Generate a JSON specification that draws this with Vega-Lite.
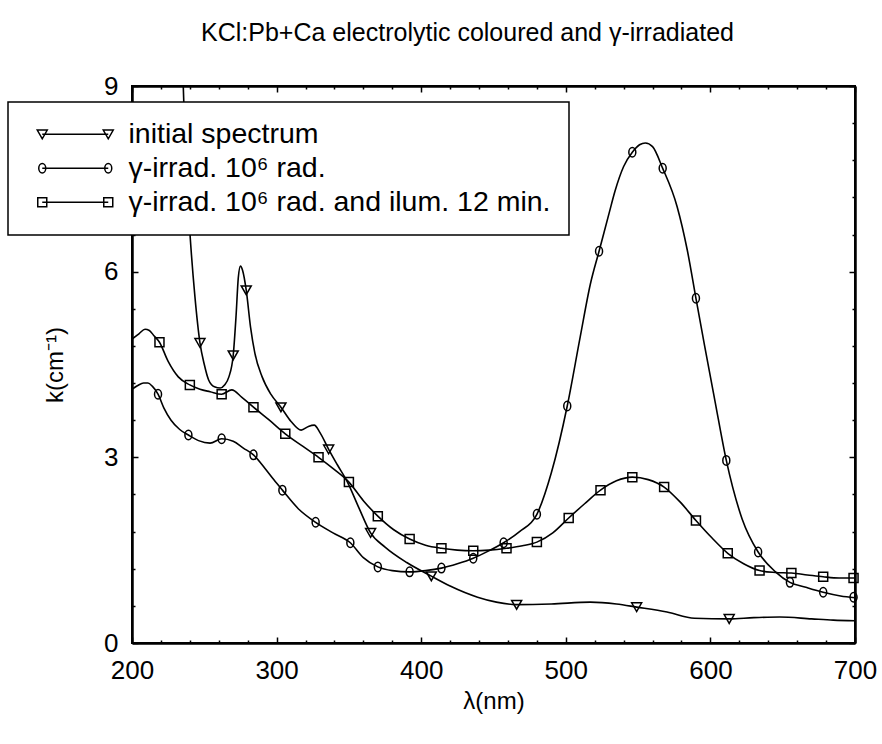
{
  "$schema": "https://vega.github.io/schema/vega-lite/v6.json",
  "width": 723,
  "height": 557,
  "autosize": {"type": "none"},
  "padding": {"left": 132, "top": 86, "right": 27, "bottom": 101},
  "background": "white",
  "config": {
    "view": {"stroke": "black", "strokeWidth": 2},
    "font": "Liberation Sans",
    "axis": {"domainColor": "black", "domainWidth": 2.5, "tickColor": "black", "tickWidth": 1.5, "labelColor": "black", "titleColor": "black", "grid": false, "labelFont": "Liberation Sans", "titleFont": "Liberation Sans", "labelFontSize": 26, "titleFontSize": 24, "titleFontWeight": "normal", "labelFlush": false, "labelOverlap": false}
  },
  "title": {"text": "KCl:Pb+Ca electrolytic coloured and γ-irradiated", "fontSize": 25, "fontWeight": "normal", "font": "Liberation Sans", "color": "black", "anchor": "middle", "frame": "group", "dx": -26, "offset": 27},
  "datasets": {
    "curves": [
      {"series": "initial spectrum", "wavelength": 234.6, "k": 9.6},
      {"series": "initial spectrum", "wavelength": 236.3, "k": 8.4},
      {"series": "initial spectrum", "wavelength": 238, "k": 7.4},
      {"series": "initial spectrum", "wavelength": 240, "k": 6.64},
      {"series": "initial spectrum", "wavelength": 243.5, "k": 5.6},
      {"series": "initial spectrum", "wavelength": 247, "k": 4.85},
      {"series": "initial spectrum", "wavelength": 250, "k": 4.5},
      {"series": "initial spectrum", "wavelength": 253, "k": 4.25},
      {"series": "initial spectrum", "wavelength": 257, "k": 4.14},
      {"series": "initial spectrum", "wavelength": 261, "k": 4.12},
      {"series": "initial spectrum", "wavelength": 264, "k": 4.17},
      {"series": "initial spectrum", "wavelength": 267, "k": 4.3},
      {"series": "initial spectrum", "wavelength": 270, "k": 4.65},
      {"series": "initial spectrum", "wavelength": 272, "k": 5.3},
      {"series": "initial spectrum", "wavelength": 273.5, "k": 5.9},
      {"series": "initial spectrum", "wavelength": 275, "k": 6.09},
      {"series": "initial spectrum", "wavelength": 276.5, "k": 6.02},
      {"series": "initial spectrum", "wavelength": 279, "k": 5.7},
      {"series": "initial spectrum", "wavelength": 282, "k": 5.1},
      {"series": "initial spectrum", "wavelength": 285, "k": 4.68},
      {"series": "initial spectrum", "wavelength": 290, "k": 4.3},
      {"series": "initial spectrum", "wavelength": 296, "k": 4.02},
      {"series": "initial spectrum", "wavelength": 303, "k": 3.81},
      {"series": "initial spectrum", "wavelength": 310, "k": 3.58},
      {"series": "initial spectrum", "wavelength": 317, "k": 3.44},
      {"series": "initial spectrum", "wavelength": 322, "k": 3.5},
      {"series": "initial spectrum", "wavelength": 326, "k": 3.52},
      {"series": "initial spectrum", "wavelength": 330, "k": 3.4},
      {"series": "initial spectrum", "wavelength": 336, "k": 3.13},
      {"series": "initial spectrum", "wavelength": 342, "k": 2.88},
      {"series": "initial spectrum", "wavelength": 349, "k": 2.6},
      {"series": "initial spectrum", "wavelength": 357, "k": 2.18},
      {"series": "initial spectrum", "wavelength": 365, "k": 1.78},
      {"series": "initial spectrum", "wavelength": 375, "k": 1.55},
      {"series": "initial spectrum", "wavelength": 390, "k": 1.3},
      {"series": "initial spectrum", "wavelength": 407, "k": 1.08},
      {"series": "initial spectrum", "wavelength": 420, "k": 0.92},
      {"series": "initial spectrum", "wavelength": 439, "k": 0.74},
      {"series": "initial spectrum", "wavelength": 452, "k": 0.66},
      {"series": "initial spectrum", "wavelength": 466, "k": 0.62},
      {"series": "initial spectrum", "wavelength": 490, "k": 0.63},
      {"series": "initial spectrum", "wavelength": 517, "k": 0.66},
      {"series": "initial spectrum", "wavelength": 535, "k": 0.63},
      {"series": "initial spectrum", "wavelength": 549, "k": 0.58},
      {"series": "initial spectrum", "wavelength": 570, "k": 0.5},
      {"series": "initial spectrum", "wavelength": 589, "k": 0.4},
      {"series": "initial spectrum", "wavelength": 613, "k": 0.39},
      {"series": "initial spectrum", "wavelength": 630, "k": 0.41},
      {"series": "initial spectrum", "wavelength": 648, "k": 0.42},
      {"series": "initial spectrum", "wavelength": 670, "k": 0.39},
      {"series": "initial spectrum", "wavelength": 685, "k": 0.37},
      {"series": "initial spectrum", "wavelength": 700, "k": 0.36},
      {"series": "γ-irrad. 10⁶ rad.", "wavelength": 200, "k": 4.1},
      {"series": "γ-irrad. 10⁶ rad.", "wavelength": 204, "k": 4.16},
      {"series": "γ-irrad. 10⁶ rad.", "wavelength": 208, "k": 4.2},
      {"series": "γ-irrad. 10⁶ rad.", "wavelength": 211, "k": 4.2},
      {"series": "γ-irrad. 10⁶ rad.", "wavelength": 214, "k": 4.15},
      {"series": "γ-irrad. 10⁶ rad.", "wavelength": 218, "k": 4.02},
      {"series": "γ-irrad. 10⁶ rad.", "wavelength": 222, "k": 3.8},
      {"series": "γ-irrad. 10⁶ rad.", "wavelength": 227, "k": 3.6},
      {"series": "γ-irrad. 10⁶ rad.", "wavelength": 233, "k": 3.45},
      {"series": "γ-irrad. 10⁶ rad.", "wavelength": 239, "k": 3.36},
      {"series": "γ-irrad. 10⁶ rad.", "wavelength": 246, "k": 3.27},
      {"series": "γ-irrad. 10⁶ rad.", "wavelength": 254, "k": 3.23},
      {"series": "γ-irrad. 10⁶ rad.", "wavelength": 262, "k": 3.3},
      {"series": "γ-irrad. 10⁶ rad.", "wavelength": 270, "k": 3.26},
      {"series": "γ-irrad. 10⁶ rad.", "wavelength": 277, "k": 3.15},
      {"series": "γ-irrad. 10⁶ rad.", "wavelength": 284, "k": 3.04},
      {"series": "γ-irrad. 10⁶ rad.", "wavelength": 292, "k": 2.82},
      {"series": "γ-irrad. 10⁶ rad.", "wavelength": 298, "k": 2.64},
      {"series": "γ-irrad. 10⁶ rad.", "wavelength": 304, "k": 2.47},
      {"series": "γ-irrad. 10⁶ rad.", "wavelength": 315, "k": 2.17},
      {"series": "γ-irrad. 10⁶ rad.", "wavelength": 327, "k": 1.95},
      {"series": "γ-irrad. 10⁶ rad.", "wavelength": 339, "k": 1.78},
      {"series": "γ-irrad. 10⁶ rad.", "wavelength": 351, "k": 1.62},
      {"series": "γ-irrad. 10⁶ rad.", "wavelength": 360, "k": 1.38},
      {"series": "γ-irrad. 10⁶ rad.", "wavelength": 370, "k": 1.23},
      {"series": "γ-irrad. 10⁶ rad.", "wavelength": 380, "k": 1.17},
      {"series": "γ-irrad. 10⁶ rad.", "wavelength": 392, "k": 1.15},
      {"series": "γ-irrad. 10⁶ rad.", "wavelength": 403, "k": 1.17},
      {"series": "γ-irrad. 10⁶ rad.", "wavelength": 414, "k": 1.21},
      {"series": "γ-irrad. 10⁶ rad.", "wavelength": 425, "k": 1.28},
      {"series": "γ-irrad. 10⁶ rad.", "wavelength": 436, "k": 1.37},
      {"series": "γ-irrad. 10⁶ rad.", "wavelength": 446, "k": 1.48},
      {"series": "γ-irrad. 10⁶ rad.", "wavelength": 457, "k": 1.62},
      {"series": "γ-irrad. 10⁶ rad.", "wavelength": 468, "k": 1.8},
      {"series": "γ-irrad. 10⁶ rad.", "wavelength": 480, "k": 2.08},
      {"series": "γ-irrad. 10⁶ rad.", "wavelength": 490, "k": 2.75},
      {"series": "γ-irrad. 10⁶ rad.", "wavelength": 501, "k": 3.83},
      {"series": "γ-irrad. 10⁶ rad.", "wavelength": 510, "k": 4.95},
      {"series": "γ-irrad. 10⁶ rad.", "wavelength": 517, "k": 5.8},
      {"series": "γ-irrad. 10⁶ rad.", "wavelength": 523, "k": 6.33},
      {"series": "γ-irrad. 10⁶ rad.", "wavelength": 530, "k": 6.95},
      {"series": "γ-irrad. 10⁶ rad.", "wavelength": 534, "k": 7.3},
      {"series": "γ-irrad. 10⁶ rad.", "wavelength": 540, "k": 7.7},
      {"series": "γ-irrad. 10⁶ rad.", "wavelength": 546, "k": 7.93},
      {"series": "γ-irrad. 10⁶ rad.", "wavelength": 551, "k": 8.05},
      {"series": "γ-irrad. 10⁶ rad.", "wavelength": 555, "k": 8.08},
      {"series": "γ-irrad. 10⁶ rad.", "wavelength": 560, "k": 8.02},
      {"series": "γ-irrad. 10⁶ rad.", "wavelength": 567, "k": 7.67},
      {"series": "γ-irrad. 10⁶ rad.", "wavelength": 577, "k": 7.05},
      {"series": "γ-irrad. 10⁶ rad.", "wavelength": 584, "k": 6.35},
      {"series": "γ-irrad. 10⁶ rad.", "wavelength": 590, "k": 5.57},
      {"series": "γ-irrad. 10⁶ rad.", "wavelength": 596, "k": 4.8},
      {"series": "γ-irrad. 10⁶ rad.", "wavelength": 603, "k": 3.93},
      {"series": "γ-irrad. 10⁶ rad.", "wavelength": 611, "k": 2.95},
      {"series": "γ-irrad. 10⁶ rad.", "wavelength": 622, "k": 2.0},
      {"series": "γ-irrad. 10⁶ rad.", "wavelength": 633, "k": 1.47},
      {"series": "γ-irrad. 10⁶ rad.", "wavelength": 645, "k": 1.15},
      {"series": "γ-irrad. 10⁶ rad.", "wavelength": 655, "k": 0.98},
      {"series": "γ-irrad. 10⁶ rad.", "wavelength": 666, "k": 0.9},
      {"series": "γ-irrad. 10⁶ rad.", "wavelength": 678, "k": 0.82},
      {"series": "γ-irrad. 10⁶ rad.", "wavelength": 690, "k": 0.76},
      {"series": "γ-irrad. 10⁶ rad.", "wavelength": 700, "k": 0.73},
      {"series": "γ-irrad. 10⁶ rad. and ilum. 12 min.", "wavelength": 200, "k": 4.91},
      {"series": "γ-irrad. 10⁶ rad. and ilum. 12 min.", "wavelength": 205, "k": 5.0},
      {"series": "γ-irrad. 10⁶ rad. and ilum. 12 min.", "wavelength": 209, "k": 5.07},
      {"series": "γ-irrad. 10⁶ rad. and ilum. 12 min.", "wavelength": 212, "k": 5.05},
      {"series": "γ-irrad. 10⁶ rad. and ilum. 12 min.", "wavelength": 215, "k": 4.97},
      {"series": "γ-irrad. 10⁶ rad. and ilum. 12 min.", "wavelength": 219, "k": 4.86},
      {"series": "γ-irrad. 10⁶ rad. and ilum. 12 min.", "wavelength": 225, "k": 4.55},
      {"series": "γ-irrad. 10⁶ rad. and ilum. 12 min.", "wavelength": 232, "k": 4.3},
      {"series": "γ-irrad. 10⁶ rad. and ilum. 12 min.", "wavelength": 240, "k": 4.17},
      {"series": "γ-irrad. 10⁶ rad. and ilum. 12 min.", "wavelength": 247, "k": 4.1},
      {"series": "γ-irrad. 10⁶ rad. and ilum. 12 min.", "wavelength": 254, "k": 4.06},
      {"series": "γ-irrad. 10⁶ rad. and ilum. 12 min.", "wavelength": 262, "k": 4.02},
      {"series": "γ-irrad. 10⁶ rad. and ilum. 12 min.", "wavelength": 269, "k": 4.09},
      {"series": "γ-irrad. 10⁶ rad. and ilum. 12 min.", "wavelength": 276, "k": 3.97},
      {"series": "γ-irrad. 10⁶ rad. and ilum. 12 min.", "wavelength": 284, "k": 3.81},
      {"series": "γ-irrad. 10⁶ rad. and ilum. 12 min.", "wavelength": 295, "k": 3.6},
      {"series": "γ-irrad. 10⁶ rad. and ilum. 12 min.", "wavelength": 306, "k": 3.38},
      {"series": "γ-irrad. 10⁶ rad. and ilum. 12 min.", "wavelength": 318, "k": 3.18},
      {"series": "γ-irrad. 10⁶ rad. and ilum. 12 min.", "wavelength": 329, "k": 3.0},
      {"series": "γ-irrad. 10⁶ rad. and ilum. 12 min.", "wavelength": 340, "k": 2.8},
      {"series": "γ-irrad. 10⁶ rad. and ilum. 12 min.", "wavelength": 350, "k": 2.6},
      {"series": "γ-irrad. 10⁶ rad. and ilum. 12 min.", "wavelength": 360, "k": 2.3},
      {"series": "γ-irrad. 10⁶ rad. and ilum. 12 min.", "wavelength": 370, "k": 2.05},
      {"series": "γ-irrad. 10⁶ rad. and ilum. 12 min.", "wavelength": 381, "k": 1.83},
      {"series": "γ-irrad. 10⁶ rad. and ilum. 12 min.", "wavelength": 392, "k": 1.68},
      {"series": "γ-irrad. 10⁶ rad. and ilum. 12 min.", "wavelength": 403, "k": 1.58},
      {"series": "γ-irrad. 10⁶ rad. and ilum. 12 min.", "wavelength": 414, "k": 1.53},
      {"series": "γ-irrad. 10⁶ rad. and ilum. 12 min.", "wavelength": 425, "k": 1.5},
      {"series": "γ-irrad. 10⁶ rad. and ilum. 12 min.", "wavelength": 436, "k": 1.49},
      {"series": "γ-irrad. 10⁶ rad. and ilum. 12 min.", "wavelength": 447, "k": 1.5},
      {"series": "γ-irrad. 10⁶ rad. and ilum. 12 min.", "wavelength": 459, "k": 1.53},
      {"series": "γ-irrad. 10⁶ rad. and ilum. 12 min.", "wavelength": 470, "k": 1.57},
      {"series": "γ-irrad. 10⁶ rad. and ilum. 12 min.", "wavelength": 480, "k": 1.63},
      {"series": "γ-irrad. 10⁶ rad. and ilum. 12 min.", "wavelength": 491, "k": 1.78},
      {"series": "γ-irrad. 10⁶ rad. and ilum. 12 min.", "wavelength": 502, "k": 2.02},
      {"series": "γ-irrad. 10⁶ rad. and ilum. 12 min.", "wavelength": 513, "k": 2.25},
      {"series": "γ-irrad. 10⁶ rad. and ilum. 12 min.", "wavelength": 524, "k": 2.47},
      {"series": "γ-irrad. 10⁶ rad. and ilum. 12 min.", "wavelength": 535, "k": 2.62},
      {"series": "γ-irrad. 10⁶ rad. and ilum. 12 min.", "wavelength": 546, "k": 2.68},
      {"series": "γ-irrad. 10⁶ rad. and ilum. 12 min.", "wavelength": 557, "k": 2.64},
      {"series": "γ-irrad. 10⁶ rad. and ilum. 12 min.", "wavelength": 568, "k": 2.52},
      {"series": "γ-irrad. 10⁶ rad. and ilum. 12 min.", "wavelength": 579, "k": 2.28},
      {"series": "γ-irrad. 10⁶ rad. and ilum. 12 min.", "wavelength": 590, "k": 1.98},
      {"series": "γ-irrad. 10⁶ rad. and ilum. 12 min.", "wavelength": 601, "k": 1.7},
      {"series": "γ-irrad. 10⁶ rad. and ilum. 12 min.", "wavelength": 612, "k": 1.45},
      {"series": "γ-irrad. 10⁶ rad. and ilum. 12 min.", "wavelength": 623, "k": 1.28},
      {"series": "γ-irrad. 10⁶ rad. and ilum. 12 min.", "wavelength": 634, "k": 1.17},
      {"series": "γ-irrad. 10⁶ rad. and ilum. 12 min.", "wavelength": 645, "k": 1.14},
      {"series": "γ-irrad. 10⁶ rad. and ilum. 12 min.", "wavelength": 656, "k": 1.13},
      {"series": "γ-irrad. 10⁶ rad. and ilum. 12 min.", "wavelength": 667, "k": 1.1},
      {"series": "γ-irrad. 10⁶ rad. and ilum. 12 min.", "wavelength": 678, "k": 1.07},
      {"series": "γ-irrad. 10⁶ rad. and ilum. 12 min.", "wavelength": 689, "k": 1.05},
      {"series": "γ-irrad. 10⁶ rad. and ilum. 12 min.", "wavelength": 700, "k": 1.05}
    ],
    "markers": [
      {"series": "initial spectrum", "wavelength": 247, "k": 4.85},
      {"series": "initial spectrum", "wavelength": 270, "k": 4.65},
      {"series": "initial spectrum", "wavelength": 279, "k": 5.7},
      {"series": "initial spectrum", "wavelength": 303, "k": 3.81},
      {"series": "initial spectrum", "wavelength": 336, "k": 3.13},
      {"series": "initial spectrum", "wavelength": 365, "k": 1.78},
      {"series": "initial spectrum", "wavelength": 407, "k": 1.08},
      {"series": "initial spectrum", "wavelength": 466, "k": 0.62},
      {"series": "initial spectrum", "wavelength": 549, "k": 0.58},
      {"series": "initial spectrum", "wavelength": 613, "k": 0.39},
      {"series": "γ-irrad. 10⁶ rad.", "wavelength": 218, "k": 4.02},
      {"series": "γ-irrad. 10⁶ rad.", "wavelength": 239, "k": 3.36},
      {"series": "γ-irrad. 10⁶ rad.", "wavelength": 262, "k": 3.3},
      {"series": "γ-irrad. 10⁶ rad.", "wavelength": 284, "k": 3.04},
      {"series": "γ-irrad. 10⁶ rad.", "wavelength": 304, "k": 2.47},
      {"series": "γ-irrad. 10⁶ rad.", "wavelength": 327, "k": 1.95},
      {"series": "γ-irrad. 10⁶ rad.", "wavelength": 351, "k": 1.62},
      {"series": "γ-irrad. 10⁶ rad.", "wavelength": 370, "k": 1.23},
      {"series": "γ-irrad. 10⁶ rad.", "wavelength": 392, "k": 1.15},
      {"series": "γ-irrad. 10⁶ rad.", "wavelength": 414, "k": 1.21},
      {"series": "γ-irrad. 10⁶ rad.", "wavelength": 436, "k": 1.37},
      {"series": "γ-irrad. 10⁶ rad.", "wavelength": 457, "k": 1.62},
      {"series": "γ-irrad. 10⁶ rad.", "wavelength": 480, "k": 2.08},
      {"series": "γ-irrad. 10⁶ rad.", "wavelength": 501, "k": 3.83},
      {"series": "γ-irrad. 10⁶ rad.", "wavelength": 523, "k": 6.33},
      {"series": "γ-irrad. 10⁶ rad.", "wavelength": 546, "k": 7.93},
      {"series": "γ-irrad. 10⁶ rad.", "wavelength": 567, "k": 7.67},
      {"series": "γ-irrad. 10⁶ rad.", "wavelength": 590, "k": 5.57},
      {"series": "γ-irrad. 10⁶ rad.", "wavelength": 611, "k": 2.95},
      {"series": "γ-irrad. 10⁶ rad.", "wavelength": 633, "k": 1.47},
      {"series": "γ-irrad. 10⁶ rad.", "wavelength": 655, "k": 0.98},
      {"series": "γ-irrad. 10⁶ rad.", "wavelength": 678, "k": 0.82},
      {"series": "γ-irrad. 10⁶ rad.", "wavelength": 699, "k": 0.74},
      {"series": "γ-irrad. 10⁶ rad. and ilum. 12 min.", "wavelength": 219, "k": 4.86},
      {"series": "γ-irrad. 10⁶ rad. and ilum. 12 min.", "wavelength": 240, "k": 4.17},
      {"series": "γ-irrad. 10⁶ rad. and ilum. 12 min.", "wavelength": 262, "k": 4.02},
      {"series": "γ-irrad. 10⁶ rad. and ilum. 12 min.", "wavelength": 284, "k": 3.81},
      {"series": "γ-irrad. 10⁶ rad. and ilum. 12 min.", "wavelength": 306, "k": 3.38},
      {"series": "γ-irrad. 10⁶ rad. and ilum. 12 min.", "wavelength": 329, "k": 3.0},
      {"series": "γ-irrad. 10⁶ rad. and ilum. 12 min.", "wavelength": 350, "k": 2.6},
      {"series": "γ-irrad. 10⁶ rad. and ilum. 12 min.", "wavelength": 370, "k": 2.05},
      {"series": "γ-irrad. 10⁶ rad. and ilum. 12 min.", "wavelength": 392, "k": 1.68},
      {"series": "γ-irrad. 10⁶ rad. and ilum. 12 min.", "wavelength": 414, "k": 1.53},
      {"series": "γ-irrad. 10⁶ rad. and ilum. 12 min.", "wavelength": 436, "k": 1.49},
      {"series": "γ-irrad. 10⁶ rad. and ilum. 12 min.", "wavelength": 459, "k": 1.53},
      {"series": "γ-irrad. 10⁶ rad. and ilum. 12 min.", "wavelength": 480, "k": 1.63},
      {"series": "γ-irrad. 10⁶ rad. and ilum. 12 min.", "wavelength": 502, "k": 2.02},
      {"series": "γ-irrad. 10⁶ rad. and ilum. 12 min.", "wavelength": 524, "k": 2.47},
      {"series": "γ-irrad. 10⁶ rad. and ilum. 12 min.", "wavelength": 546, "k": 2.68},
      {"series": "γ-irrad. 10⁶ rad. and ilum. 12 min.", "wavelength": 568, "k": 2.52},
      {"series": "γ-irrad. 10⁶ rad. and ilum. 12 min.", "wavelength": 590, "k": 1.98},
      {"series": "γ-irrad. 10⁶ rad. and ilum. 12 min.", "wavelength": 612, "k": 1.45},
      {"series": "γ-irrad. 10⁶ rad. and ilum. 12 min.", "wavelength": 634, "k": 1.17},
      {"series": "γ-irrad. 10⁶ rad. and ilum. 12 min.", "wavelength": 656, "k": 1.13},
      {"series": "γ-irrad. 10⁶ rad. and ilum. 12 min.", "wavelength": 678, "k": 1.07},
      {"series": "γ-irrad. 10⁶ rad. and ilum. 12 min.", "wavelength": 699, "k": 1.05}
    ]
  },
  "layer": [
    {
      "data": {"name": "curves"},
      "mark": {"type": "line", "interpolate": "monotone", "clip": true, "strokeWidth": 1.6},
      "encoding": {
        "x": {"field": "wavelength", "type": "quantitative", "scale": {"domain": [200, 700], "nice": false, "zero": false},
          "axis": {"orient": "bottom", "values": [200,220,240,260,280,300,320,340,360,380,400,420,440,460,480,500,520,540,560,580,600,620,640,660,680,700], "labelExpr": "datum.value % 100 === 0 ? datum.label : ''", "labelOverlap": false, "tickSize": {"condition": {"test": "datum.value % 100 === 0", "value": -6}, "value": -3}, "labelPadding": 20, "title": "λ(nm)", "titlePadding": 3}},
        "y": {"field": "k", "type": "quantitative", "scale": {"domain": [0, 9], "nice": false, "zero": true},
          "axis": {"orient": "left", "values": [0,0.6,1.2,1.8,2.4,3,3.6,4.2,4.8,5.4,6,6.6,7.2,7.8,8.4,9], "labelExpr": "datum.value % 3 === 0 ? '' + datum.value : ''", "labelOverlap": false, "tickSize": {"condition": {"test": "datum.value % 3 === 0", "value": -6}, "value": -3}, "labelPadding": 20, "title": "k(cm⁻¹)", "titlePadding": 36}},
        "color": {"field": "series", "type": "nominal",
          "scale": {"domain": ["initial spectrum", "γ-irrad. 10⁶ rad.", "γ-irrad. 10⁶ rad. and ilum. 12 min."], "range": ["black", "black", "black"]},
          "legend": {"orient": "none", "legendX": -124, "legendY": 16, "title": null, "direction": "vertical", "strokeColor": "black", "fillColor": "white", "padding": 18, "symbolOffset": 35, "labelOffset": 39, "labelFontSize": 28.5, "labelFont": "Liberation Sans", "labelColor": "black", "rowPadding": 5, "symbolSize": 100, "symbolStrokeWidth": 1.5, "symbolStrokeColor": "black", "labelLimit": 700,
            "encode": {
              "legend": {"update": {"strokeWidth": {"value": 1.5}}},
              "symbols": {"update": {
                "shape": {"signal": "datum.index === 0 ? 'M-6.6,0H6.6M-7.6,-0.85H-5.6L-6.6,0.9ZM5.6,-0.85H7.6L6.6,0.9Z' : datum.index === 1 ? 'M-6.6,0H6.6M-6.6,-0.95A0.7,0.95 0 1,1 -6.6,0.95A0.7,0.95 0 1,1 -6.6,-0.95ZM6.6,-0.95A0.7,0.95 0 1,1 6.6,0.95A0.7,0.95 0 1,1 6.6,-0.95Z' : 'M-6.6,0H6.6M-7.5,-0.9H-5.7V0.9H-7.5ZM5.7,-0.9H7.5V0.9H5.7Z'"},
                "fill": {"value": "transparent"},
                "stroke": {"value": "black"},
                "strokeWidth": {"value": 1.5}
              }}
            }}
        }
      }
    },
    {
      "data": {"name": "markers"},
      "transform": [{"filter": "datum.series === 'initial spectrum'"}],
      "mark": {"type": "point", "filled": false, "color": "black", "stroke": "black", "strokeWidth": 1.5, "size": 100, "opacity": 1, "shape": "M-1,-0.85H1L0,0.9Z"},
      "encoding": {
        "x": {"field": "wavelength", "type": "quantitative", "scale": {"domain": [200, 700], "nice": false, "zero": false},
          "axis": {"orient": "top", "values": [200,220,240,260,280,300,320,340,360,380,400,420,440,460,480,500,520,540,560,580,600,620,640,660,680,700], "labels": false, "title": null, "tickSize": {"condition": {"test": "datum.value % 100 === 0", "value": -6}, "value": -3}}},
        "y": {"field": "k", "type": "quantitative", "scale": {"domain": [0, 9], "nice": false},
          "axis": {"orient": "right", "values": [0,0.6,1.2,1.8,2.4,3,3.6,4.2,4.8,5.4,6,6.6,7.2,7.8,8.4,9], "labels": false, "title": null, "tickSize": {"condition": {"test": "datum.value % 3 === 0", "value": -6}, "value": -3}}}
      }
    },
    {
      "data": {"name": "markers"},
      "transform": [{"filter": "datum.series === 'γ-irrad. 10⁶ rad.'"}],
      "mark": {"type": "point", "filled": false, "color": "black", "stroke": "black", "strokeWidth": 1.5, "size": 100, "opacity": 1, "shape": "M0,-0.95A0.7,0.95 0 1,1 0,0.95A0.7,0.95 0 1,1 0,-0.95Z"},
      "encoding": {
        "x": {"field": "wavelength", "type": "quantitative", "axis": null},
        "y": {"field": "k", "type": "quantitative", "axis": null}
      }
    },
    {
      "data": {"name": "markers"},
      "transform": [{"filter": "datum.series === 'γ-irrad. 10⁶ rad. and ilum. 12 min.'"}],
      "mark": {"type": "point", "filled": false, "color": "black", "stroke": "black", "strokeWidth": 1.5, "size": 100, "opacity": 1, "shape": "M-0.9,-0.9H0.9V0.9H-0.9Z"},
      "encoding": {
        "x": {"field": "wavelength", "type": "quantitative", "axis": null},
        "y": {"field": "k", "type": "quantitative", "axis": null}
      }
    }
  ],
  "resolve": {"axis": {"x": "independent", "y": "independent"}}
}
